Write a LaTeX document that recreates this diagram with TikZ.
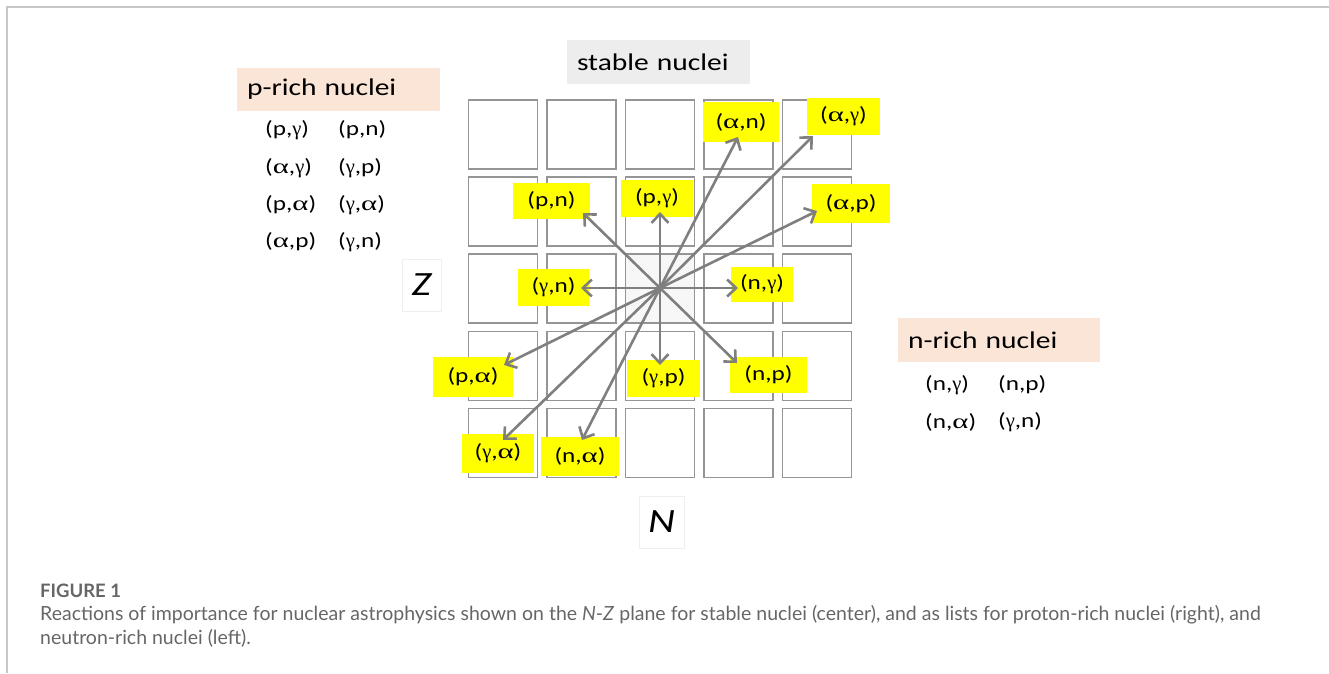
\documentclass[tikz,border=0pt]{standalone}
\usepackage{fontspec}
\setmainfont{Carlito}[FakeStretch=1.23]
\newfontfamily\alfont{Liberation Serif}[FakeStretch=1.5]
\newfontfamily\gafont{Liberation Serif}[FakeStretch=1.0]
\newfontfamily\capfont{Lato}
\usetikzlibrary{arrows.meta}

\definecolor{framegray}{HTML}{C8C8C8}
\definecolor{cellgray}{HTML}{959595}
\definecolor{corefill}{HTML}{F7F7F7}
\definecolor{arrowgray}{HTML}{7F7F7F}
\definecolor{hl}{HTML}{FFFF00}
\definecolor{peach}{HTML}{FBE5D6}
\definecolor{lightbg}{HTML}{EDEDED}
\definecolor{axisframe}{HTML}{EFEFEF}
\definecolor{capgray}{HTML}{666666}

% Greek particle symbols
\newcommand\ral{{\alfont α}}
\newcommand\rga{{\gafont γ}}
\newcommand\lblsize{\fontsize{20.5}{24}\selectfont}
\newcommand\hdrsize{\fontsize{24}{29}\selectfont}
\newcommand\axsize{\fontsize{34}{40}\selectfont\itshape}
\newcommand\capsize{\fontsize{19.5}{24}\selectfont}

\begin{document}
\begin{tikzpicture}[x=1pt,y=-1pt,
  cell/.style={draw=cellgray, line width=1.6pt, minimum size=69pt, inner sep=0pt},
  tag/.style={fill=hl, inner sep=0pt, font=\lblsize},
  rx/.style={draw=arrowgray, line width=2.6pt, -{Straight Barb[length=9pt,width=17pt]}},
  hdr/.style={inner xsep=10pt, inner ysep=0pt, align=left, font=\hdrsize},
  item/.style={anchor=west, inner sep=0pt, font=\lblsize},
  axis/.style={draw=axisframe, line width=0.8pt, fill=white, font=\axsize, inner sep=0pt},
  captext/.style={anchor=base west, inner sep=0pt, font=\capfont\capsize, text=capgray}]
\useasboundingbox (0,0) rectangle (1329,673);

% page frame
\draw[framegray, line width=1.5pt] (7,673) -- (7,7) -- (1329,7);

% headers
\node[hdr, fill=lightbg, minimum height=44pt, text width=163pt] (stable) at (658.5,62) {stable nuclei};
\node[hdr, fill=peach, minimum height=43pt, text width=183pt] (prich) at (338.5,89.5) {p-rich nuclei};
\node[hdr, fill=peach, minimum height=44pt, text width=182pt] (nrich) at (999,340) {n-rich nuclei};

% reaction lists
\node[item] (p1a) at (265,130) {(p,\rga)};
\node[item] (p1b) at (338,130) {(p,n)};
\node[item] (p2a) at (265,168) {(\ral,\rga)};
\node[item] (p2b) at (338,168) {(\rga,p)};
\node[item] (p3a) at (265,205) {(p,\ral)};
\node[item] (p3b) at (338,205) {(\rga,\ral)};
\node[item] (p4a) at (265,242) {(\ral,p)};
\node[item] (p4b) at (338,242) {(\rga,n)};
\node[item] (n1a) at (925,385) {(n,\rga)};
\node[item] (n1b) at (998,385) {(n,p)};
\node[item] (n2a) at (925,422) {(n,\ral)};
\node[item] (n2b) at (998,422) {(\rga,n)};

% axis letters
\node[axis, minimum width=39pt, minimum height=52pt] (Z) at (421.5,285) {Z};
\node[axis, minimum width=45pt, minimum height=52pt] (N) at (661.5,522) {N};

% N-Z grid
\fill[corefill] (626,254.5) rectangle (694,323);
\foreach \i in {0,...,4}
  \foreach \j in {0,...,4}
    \node[cell] (c\i\j) at ({503+78.5*\i},{134.5+77.1*\j}) {};

% reaction labels
\node[tag, minimum width=76pt, minimum height=40pt] (an) at (741,122) {(\ral,n)};
\node[tag, minimum width=73pt, minimum height=37pt] (ag) at (843.5,116.5) {(\ral,\rga)};
\node[tag, minimum width=77pt, minimum height=36pt] (pn) at (551.5,201) {(p,n)};
\node[tag, minimum width=72pt, minimum height=37pt] (pg) at (657,198.5) {(p,\rga)};
\node[tag, minimum width=78pt, minimum height=39pt] (ap) at (851,203.5) {(\ral,p)};
\node[tag, minimum width=71pt, minimum height=37pt] (gn) at (553.5,287.5) {(\rga,n)};
\node[tag, minimum width=62pt, minimum height=35pt] (ng) at (762,284.5) {(n,\rga)};
\node[tag, minimum width=80pt, minimum height=40pt] (pa) at (473,377) {(p,\ral)};
\node[tag, minimum width=73pt, minimum height=37pt] (gp) at (663.5,378.5) {(\rga,p)};
\node[tag, minimum width=77pt, minimum height=36pt] (np) at (768.5,375) {(n,p)};
\node[tag, minimum width=72pt, minimum height=39pt] (ga) at (498,453.5) {(\rga,\ral)};
\node[tag, minimum width=78pt, minimum height=39pt] (na) at (580,456.5) {(n,\ral)};

% reaction vectors from the stable nucleus
\coordinate (o) at (660,288);
\coordinate (t-an) at (738,137);
\coordinate (t-ag) at (813,136);
\coordinate (t-pn) at (583,213);
\coordinate (t-pg) at (660,212);
\coordinate (t-ap) at (817,211);
\coordinate (t-gn) at (581,288);
\coordinate (t-ng) at (738,288);
\coordinate (t-pa) at (504,365);
\coordinate (t-gp) at (660,365);
\coordinate (t-np) at (737,363);
\coordinate (t-ga) at (503,440);
\coordinate (t-na) at (582,440);
\foreach \r in {an,ag,pn,pg,ap,gn,ng,pa,gp,np,ga,na}
  \draw[rx] (o) -- (t-\r);

% caption
\node[captext, font=\capfont\fontsize{18.5}{24}\selectfont\bfseries] (fig) at (40,597) {FIGURE 1};
\node[captext] (cap1) at (40,620) {Reactions of importance for nuclear astrophysics shown on the \textit{N}-\textit{Z} plane for stable nuclei (center), and as lists for proton-rich nuclei (right), and};
\node[captext] (cap2) at (40,644) {neutron-rich nuclei (left).};
\end{tikzpicture}
\end{document}
